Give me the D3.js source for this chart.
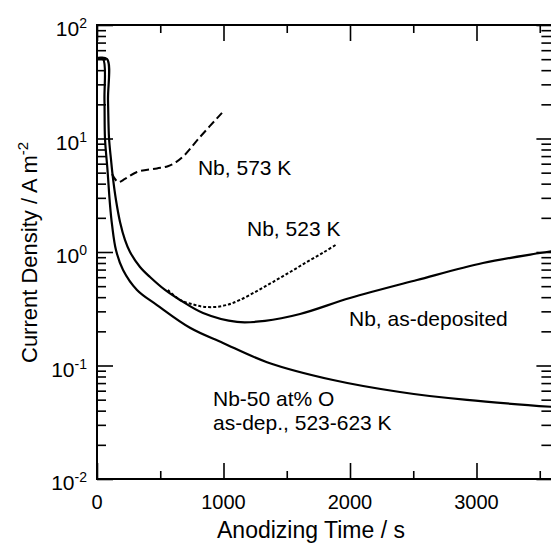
<!DOCTYPE html>
<html>
<head>
<meta charset="utf-8">
<script src="https://cdn.jsdelivr.net/npm/d3@7"></script>
<style>
  body { margin: 0; background: #fff; }
  svg { display: block; }
  text { font-family: "Liberation Sans", Arial, Helvetica, sans-serif; fill: #000; }
</style>
</head>
<body>
<svg id="chart" width="551" height="543"></svg>
<script>
// anodizing time (s) / current density (A m^-2)
var asDepT = [0, 79, 87, 95, 111, 126, 150, 182, 221, 261, 340, 419, 538, 656, 838, 1107, 1328, 1605, 2000, 2530, 3051, 3502, 3600];
var asDepV = [51, 50.1, 21.8, 10.1, 6.47, 4.49, 2.87, 1.84, 1.28, 1.0, 0.738, 0.602, 0.463, 0.378, 0.290, 0.242, 0.247, 0.284, 0.393, 0.567, 0.80, 0.98, 1.02];

var oxT = [0, 47, 59, 63, 83, 103, 119, 150, 206, 316, 474, 735, 996, 1344, 1866, 2395, 2925, 3600];
var oxV = [51, 50.5, 21.8, 10.1, 5.28, 2.59, 1.73, 1.04, 0.694, 0.463, 0.341, 0.215, 0.158, 0.107, 0.0745, 0.0584, 0.0497, 0.0432];

var k573T = [119, 166, 221, 316, 474, 560, 625, 690, 814, 988];
var k573V = [4.87, 4.14, 4.40, 5.07, 5.45, 5.7, 6.2, 7.1, 10.3, 16.8];

var k523T = [560, 656, 760, 838, 940, 1040, 1130, 1260, 1391, 1530, 1660, 1790, 1900];
var k523V = [0.463, 0.378, 0.345, 0.330, 0.328, 0.345, 0.378, 0.45, 0.544, 0.67, 0.817, 0.99, 1.18];

var xMajor = [0, 1000, 2000, 3000];
var xMinor = [500, 1500, 2500, 3500];
var yDecades = [-2, -1, 0, 1, 2];

var labels = [
  { text: "Nb, 573 K", t: 798, v: 4.77 },
  { text: "Nb, 523 K", t: 1186, v: 1.38 },
  { text: "Nb, as-deposited", t: 1992, v: 0.223 },
  { text: "Nb-50 at% O", t: 917, v: 0.044 },
  { text: "as-dep., 523-623 K", t: 917, v: 0.027 }
];

var svg = d3.select("#chart");
var plotLeft = 97, plotTop = 25, plotBottom = 479;

var x = d3.scaleLinear().domain([0, 3600]).range([plotLeft, plotLeft + 3600 * 0.1265]);
var y = d3.scaleLog().domain([1e-2, 1e2]).range([plotBottom, plotTop]);
var plotRight = x(3600);

var yMinor = [];
yDecades.slice(0, -1).forEach(function(e) {
  for (var m = 2; m <= 9; m++) yMinor.push(m * Math.pow(10, e));
});
var yMajor = yDecades.map(function(e) { return Math.pow(10, e); });

function tickAxis(axis, values, size, transform) {
  var g = svg.append("g").attr("transform", transform)
    .call(axis.tickValues(values).tickSize(size).tickFormat(""));
  g.select(".domain").remove();
  g.selectAll("line").attr("stroke", "#000").attr("stroke-width", 1.6);
}

tickAxis(d3.axisRight(y), yMajor, 16, "translate(" + plotLeft + ",0)");
tickAxis(d3.axisRight(y), yMinor, 9, "translate(" + plotLeft + ",0)");
tickAxis(d3.axisLeft(y), yMajor, 16, "translate(" + plotRight + ",0)");
tickAxis(d3.axisLeft(y), yMinor, 11, "translate(" + plotRight + ",0)");
tickAxis(d3.axisTop(x), xMajor, 16, "translate(0," + plotBottom + ")");
tickAxis(d3.axisTop(x), xMinor, 8, "translate(0," + plotBottom + ")");
tickAxis(d3.axisBottom(x), xMajor, 16, "translate(0," + plotTop + ")");
tickAxis(d3.axisBottom(x), xMinor, 8, "translate(0," + plotTop + ")");

svg.append("rect")
  .attr("x", plotLeft).attr("y", plotTop)
  .attr("width", plotRight - plotLeft).attr("height", plotBottom - plotTop)
  .attr("fill", "none").attr("stroke", "#000").attr("stroke-width", 2);

// tick labels
svg.selectAll(".xlab").data(xMajor).enter().append("text")
  .attr("x", function(d) { return x(d); })
  .attr("y", plotBottom + 30)
  .attr("text-anchor", "middle")
  .style("font-size", "20px")
  .text(function(d) { return d; });

var yl = svg.selectAll(".ylab").data(yDecades).enter().append("text")
  .attr("x", 87)
  .attr("y", function(d) { return y(Math.pow(10, d)) + 11; })
  .attr("text-anchor", "end")
  .style("font-size", "21px");
yl.append("tspan").text("10");
yl.append("tspan").attr("dy", -8).style("font-size", "14px").text(function(d) { return d; });

// axis titles
svg.append("text")
  .attr("x", 311).attr("y", 538)
  .attr("text-anchor", "middle")
  .style("font-size", "23px")
  .text("Anodizing Time / s");

var yt = svg.append("text")
  .attr("transform", "translate(37,363) rotate(-90)")
  .style("font-size", "22px");
yt.append("tspan").text("Current Density / A m");
yt.append("tspan").attr("dy", -9).style("font-size", "15px").text("-2");

// curves
var line = d3.line()
  .x(function(d) { return x(d[0]); })
  .y(function(d) { return y(d[1]); })
  .curve(d3.curveCatmullRom.alpha(0.5));

function series(ts, vs) { return ts.map(function(t, i) { return [t, vs[i]]; }); }

svg.append("path").datum(series(k523T, k523V))
  .attr("d", line).attr("fill", "none").attr("stroke", "#000")
  .attr("stroke-width", 2).attr("stroke-dasharray", "3,2");

svg.append("path").datum(series(k573T, k573V))
  .attr("d", line).attr("fill", "none").attr("stroke", "#000")
  .attr("stroke-width", 2).attr("stroke-dasharray", "8,4");

svg.append("path").datum(series(asDepT, asDepV))
  .attr("d", line).attr("fill", "none").attr("stroke", "#000").attr("stroke-width", 2.2);

svg.append("path").datum(series(oxT, oxV))
  .attr("d", line).attr("fill", "none").attr("stroke", "#000").attr("stroke-width", 2.2);

svg.selectAll(".lab").data(labels).enter().append("text")
  .attr("x", function(d) { return x(d.t); })
  .attr("y", function(d) { return y(d.v); })
  .style("font-size", "21px")
  .text(function(d) { return d.text; });
</script>
</body>
</html>
